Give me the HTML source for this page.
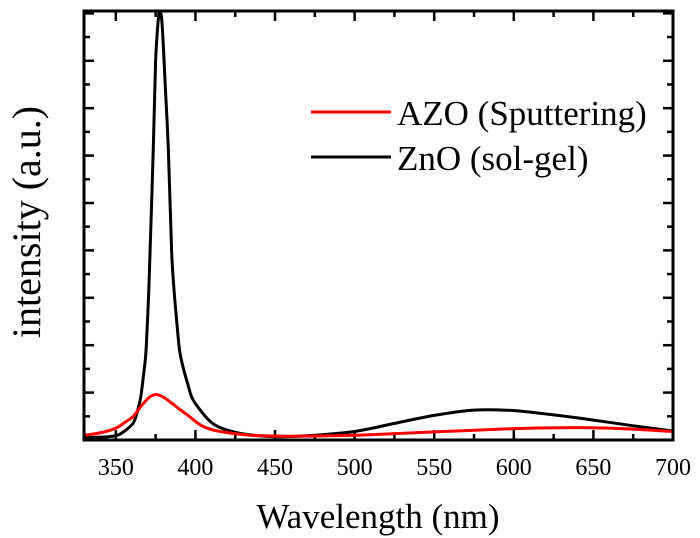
<!DOCTYPE html>
<html><head><meta charset="utf-8"><style>
body{margin:0;background:#fff}
svg{display:block;font-family:"Liberation Serif",serif}
</style></head><body>
<svg id="chart" width="700" height="538" viewBox="0 0 700 538" xmlns="http://www.w3.org/2000/svg">
<g id="ticks"></g>
<g id="series"></g>
<rect x="84" y="11" width="589" height="429" fill="none" stroke="#000" stroke-width="3"/>
<text x="378" y="528" font-size="35" text-anchor="middle">Wavelength (nm)</text>
<text transform="translate(40,222) rotate(-90)" font-size="40" text-anchor="middle">intensity (a.u.)</text>
<g>
<line x1="311" y1="112" x2="391" y2="112" stroke="#f00" stroke-width="3"/>
<text x="397" y="125" font-size="35">AZO (Sputtering)</text>
<line x1="311" y1="157" x2="391" y2="157" stroke="#000" stroke-width="3"/>
<text x="397" y="170" font-size="35">ZnO (sol-gel)</text>
</g>
</svg>
<script>
const xTickLabels=[350,400,450,500,550,600,650,700];
const blackX=[330,345,351,356,361,363.5,365.6,367.5,369,370.5,371.5,373.5,375,376.5,377.5,379,381,383,385,386.5,388,390,392.5,395,398,403,409,415,428,440,455,475,500,525,550,575,600,625,650,675,700];
const blackY=[0.05,0.07,0.1,0.2,0.36,0.6,0.9,1.4,1.9,3,4,6.1,8.0,8.8,9.05,8.8,7.5,6.1,4.0,3.2,2.6,1.9,1.5,1.2,0.88,0.63,0.4,0.27,0.14,0.09,0.07,0.1,0.18,0.35,0.52,0.63,0.62,0.53,0.42,0.3,0.19];
const redX=[330,340,350,356,361,366,371,375.5,380,385,390,396,403,410,421,435,460,500,550,600,630,660,680,700];
const redY=[0.1,0.15,0.25,0.38,0.5,0.72,0.9,0.96,0.9,0.78,0.65,0.5,0.32,0.22,0.15,0.1,0.08,0.1,0.17,0.24,0.26,0.25,0.22,0.18];
const X0=84,X1=673,Y0=440,Y1=11,xMin=330,xMax=700,yMin=0,yMax=9.05;
const sx=v=>X0+(v-xMin)/(xMax-xMin)*(X1-X0);
const sy=v=>Y0-(v-yMin)/(yMax-yMin)*(Y0-Y1);
const NS="http://www.w3.org/2000/svg";
const tg=document.getElementById('ticks');
function ln(x1,y1,x2,y2,name){const l=document.createElementNS(NS,'line');
l.setAttribute('x1',x1);l.setAttribute('y1',y1);l.setAttribute('x2',x2);l.setAttribute('y2',y2);
l.setAttribute('stroke','#000');l.setAttribute('stroke-width','2.5');


tg.appendChild(l);}
for(let v=350;v<=700;v+=25){const x=sx(v);const major=(v%50===0);const L=major?10:6;
ln(x,Y0,x,Y0-L,'x-tick');ln(x,Y1,x,Y1+L,'x-tick-top');}
xTickLabels.forEach(v=>{const t=document.createElementNS(NS,'text');
t.setAttribute('x',sx(v));t.setAttribute('y',475);t.setAttribute('font-size','24');t.setAttribute('text-anchor','middle');


t.textContent=v;tg.appendChild(t);});
for(let k=0;k<=18;k++){const v=k*0.5;if(v<=0||v>=yMax)continue;const y=sy(v);const L=(k%2===0)?10:6;
ln(X0,y,X0+L,y,'y-tick');ln(X1,y,X1-L,y,'y-tick-right');}
const sg=document.getElementById('series');
function path(xs,ys,color,name){
const P=xs.map((x,i)=>[sx(x),sy(ys[i])]);
let d='M'+P[0][0].toFixed(1)+','+P[0][1].toFixed(1);
for(let i=0;i<P.length-1;i++){const p0=P[Math.max(i-1,0)],p1=P[i],p2=P[i+1],p3=P[Math.min(i+2,P.length-1)];
const t=0.16;
const c1=[p1[0]+(p2[0]-p0[0])*t,p1[1]+(p2[1]-p0[1])*t];
const c2=[p2[0]-(p3[0]-p1[0])*t,p2[1]-(p3[1]-p1[1])*t];
d+='C'+c1[0].toFixed(1)+','+c1[1].toFixed(1)+' '+c2[0].toFixed(1)+','+c2[1].toFixed(1)+' '+p2[0].toFixed(1)+','+p2[1].toFixed(1);}
const p=document.createElementNS(NS,'path');p.setAttribute('d',d);p.setAttribute('fill','none');p.setAttribute('stroke',color);
p.setAttribute('stroke-width','3');p.setAttribute('stroke-linejoin','round');


sg.appendChild(p);}
path(blackX,blackY,'#000','zno-sol-gel-line');
path(redX,redY,'#f00','azo-sputtering-line');
</script>
</body></html>
